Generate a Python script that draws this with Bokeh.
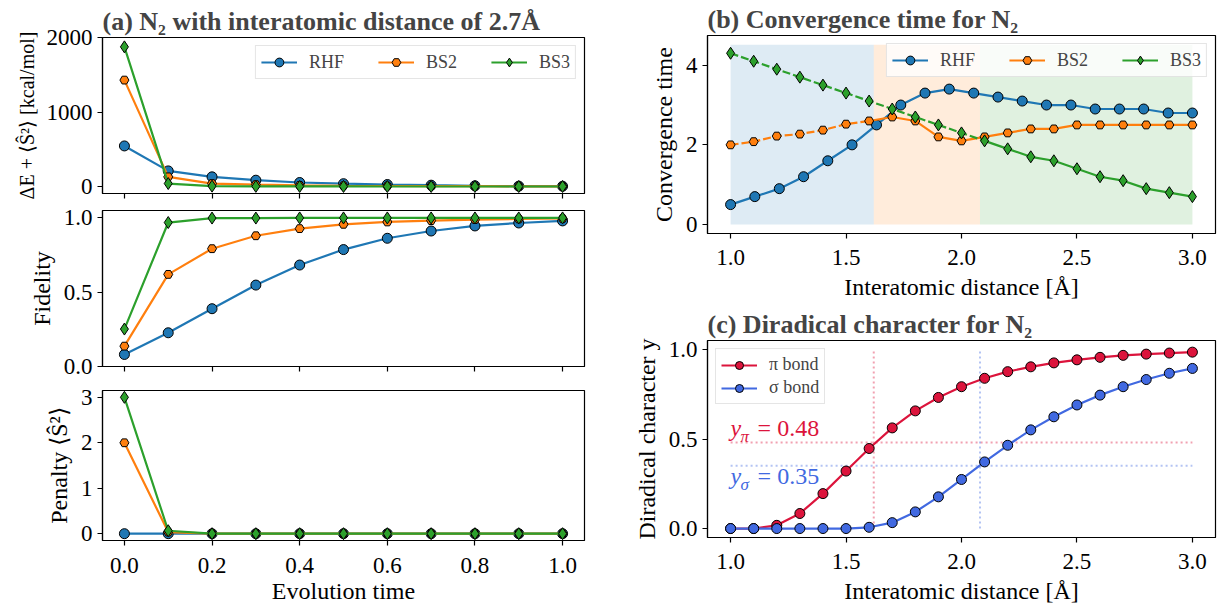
import numpy as np
from bokeh.plotting import figure
from bokeh.layouts import row, column
from bokeh.models import Range1d, FixedTicker, PrintfTickFormatter, Legend, LegendItem
from bokeh.core.properties import value
from bokeh.embed import file_html
from bokeh.resources import INLINE

# ---------------- data ----------------
evolution_time = [0.0, 0.1, 0.2, 0.3, 0.4, 0.5, 0.6, 0.7, 0.8, 0.9, 1.0]
energy_rhf = [546, 210, 130, 85, 54, 38, 27, 18, 10, 5, 4]
energy_bs2 = [1432, 130, 40, 25, 15, 10, 7, 5, 4, 3, 2]
energy_bs3 = [1879, 40, 5, 2, 1, 1, 0, 0, 0, 0, 0]

fidelity_rhf = [0.081, 0.227, 0.389, 0.548, 0.683, 0.787, 0.863, 0.912, 0.946, 0.966, 0.980]
fidelity_bs2 = [0.137, 0.620, 0.793, 0.880, 0.928, 0.957, 0.973, 0.982, 0.989, 0.993, 0.996]
fidelity_bs3 = [0.252, 0.969, 0.999, 0.999, 1.0, 1.0, 1.0, 1.0, 1.0, 1.0, 1.0]

penalty_rhf = [0.0, 0.0, 0.0, 0.0, 0.0, 0.0, 0.0, 0.0, 0.0, 0.0, 0.0]
penalty_bs2 = [2.0, 0.035, 0.0, 0.0, 0.0, 0.0, 0.0, 0.0, 0.0, 0.0, 0.0]
penalty_bs3 = [3.0, 0.065, 0.0, 0.0, 0.0, 0.0, 0.0, 0.0, 0.0, 0.0, 0.0]

distance_rhf = [1.0, 1.105, 1.211, 1.316, 1.421, 1.526, 1.632, 1.737, 1.842, 1.947,
                2.053, 2.158, 2.263, 2.368, 2.474, 2.579, 2.684, 2.789, 2.895, 3.0]
distance = [1.0, 1.1, 1.2, 1.3, 1.4, 1.5, 1.6, 1.7, 1.8, 1.9, 2.0,
            2.1, 2.2, 2.3, 2.4, 2.5, 2.6, 2.7, 2.8, 2.9, 3.0]
conv_rhf = [0.5, 0.7, 0.9, 1.2, 1.6, 2.0, 2.5, 3.0, 3.3, 3.4,
            3.3, 3.2, 3.1, 3.0, 3.0, 2.9, 2.9, 2.9, 2.8, 2.8]
conv_bs2 = [2.0, 2.08, 2.22, 2.27, 2.37, 2.52, 2.6, 2.7, 2.6, 2.2, 2.1,
            2.2, 2.3, 2.4, 2.4, 2.5, 2.5, 2.5, 2.5, 2.5, 2.5]
conv_bs3 = [4.3, 4.1, 3.9, 3.7, 3.5, 3.3, 3.1, 2.9, 2.7, 2.5, 2.3,
            2.1, 1.9, 1.7, 1.6, 1.4, 1.2, 1.1, 0.9, 0.8, 0.7]
bs2_solid_from = 1.6   # BS2 drawn dashed before this distance
bs3_solid_from = 2.1   # BS3 drawn dashed before this distance

diradical_pi = [0.0, 0.0, 0.018, 0.084, 0.195, 0.321, 0.447, 0.562, 0.657, 0.732, 0.792,
                0.839, 0.876, 0.903, 0.925, 0.942, 0.956, 0.967, 0.974, 0.980, 0.985]
diradical_sigma = [0.0, 0.0, 0.0, 0.0, 0.0, 0.0, 0.007, 0.033, 0.093, 0.177, 0.274,
                   0.372, 0.465, 0.551, 0.624, 0.690, 0.745, 0.792, 0.832, 0.867, 0.894]
y_pi_threshold = 0.48
y_sigma_threshold = 0.35
pi_crossing = 1.62
sigma_crossing = 2.08

region_left = [1.0, pi_crossing, sigma_crossing]
region_right = [pi_crossing, sigma_crossing, 3.0]

# ---------------- style ----------------
FONT = "Liberation Serif"
C_BLUE, C_ORANGE, C_GREEN = "#1f77b4", "#ff7f0e", "#2ca02c"
C_PI, C_SIGMA = "#dc143c", "#4169e1"
TICK_PX = "23px"
LABEL_PX = "24px"


def make_fig(width, height, xr, yr, mb):
    p = figure(width=width, height=height, x_range=Range1d(*xr), y_range=Range1d(*yr),
               output_backend="svg", toolbar_location=None,
               min_border_left=mb[0], min_border_right=mb[1],
               min_border_top=mb[2], min_border_bottom=mb[3])
    p.background_fill_color = "white"
    p.border_fill_color = "white"
    p.outline_line_color = "black"
    p.outline_line_width = 1.2
    p.xgrid.visible = False
    p.ygrid.visible = False
    for ax in (p.xaxis[0], p.yaxis[0]):
        ax.axis_line_color = "black"
        ax.axis_line_width = 1.2
        ax.major_tick_out = 5
        ax.major_tick_in = 0
        ax.major_tick_line_width = 1.2
        ax.minor_tick_line_color = None
        ax.major_label_text_font = FONT
        ax.major_label_text_font_size = TICK_PX
        ax.major_label_text_color = "black"
        ax.axis_label_text_font = FONT
        ax.axis_label_text_font_size = LABEL_PX
        ax.axis_label_text_font_style = "normal"
        ax.axis_label_text_color = "black"
        ax.major_label_standoff = 5
        ax.axis_label_standoff = 6
    return p


def set_title(p, text):
    p.title.text = text
    p.title.text_font = FONT
    p.title.text_font_style = "bold"
    p.title.text_font_size = "26px"
    p.title.align = "left"
    p.title.standoff = 4


def hide_xlabels(p):
    p.xaxis.major_label_text_color = None
    p.xaxis.major_label_text_font_size = "1px"
    p.xaxis.major_label_standoff = 0


def style_legend(leg, orientation, gh=22):
    leg.orientation = orientation
    leg.label_text_font = FONT
    leg.label_text_font_size = "18px"
    leg.glyph_width = 36
    leg.glyph_height = gh
    leg.label_height = 20
    leg.label_standoff = 12
    leg.padding = 5
    leg.margin = 8
    leg.border_line_color = "#cccccc"
    leg.border_line_width = 1
    leg.background_fill_color = "white"
    leg.background_fill_alpha = 0.8


def three_series(p, x, ys, sizes=(10, 9, 12)):
    renderers = []
    specs = [(C_BLUE, "circle"), (C_ORANGE, "hex"), (C_GREEN, "diamond")]
    for (col, mk), yv, sz in zip(specs, ys, sizes):
        ln = p.line(x, yv, line_color=col, line_width=2.2)
        sc = p.scatter(x, yv, marker=mk, size=sz, fill_color=col, line_color="black", line_width=1)
        renderers.append([ln, sc])
    return renderers


XT = [0.0, 0.2, 0.4, 0.6, 0.8, 1.0]
LW = 594

# ---- (a) top ----
a1 = make_fig(LW, 201, (-0.05, 1.05), (-94, 2005), (102, 10, 37, 8))
set_title(a1, "(a) N₂ with interatomic distance of 2.7Å")
r = three_series(a1, evolution_time, [energy_rhf, energy_bs2, energy_bs3])
a1.xaxis.ticker = FixedTicker(ticks=XT)
hide_xlabels(a1)
a1.yaxis.ticker = FixedTicker(ticks=[0, 1000, 2000])
a1.yaxis.formatter = PrintfTickFormatter(format="%d")
a1.yaxis.axis_label = "ΔE + ⟨Ŝ²⟩ [kcal/mol]"
a1.yaxis.axis_label_text_font_size = "20px"
leg = Legend(items=[LegendItem(label=n, renderers=rr) for n, rr in zip(["RHF", "BS2", "BS3"], r)],
             location="top_right")
style_legend(leg, "horizontal")
leg.spacing = 34
a1.add_layout(leg)

# ---- (a) middle ----
a2 = make_fig(LW, 179, (-0.05, 1.05), (0.0, 1.05), (102, 10, 9, 14))
three_series(a2, evolution_time, [fidelity_rhf, fidelity_bs2, fidelity_bs3])
a2.xaxis.ticker = FixedTicker(ticks=XT)
hide_xlabels(a2)
a2.yaxis.ticker = FixedTicker(ticks=[0.0, 0.5, 1.0])
a2.yaxis.formatter = PrintfTickFormatter(format="%.1f")
a2.yaxis.axis_label = "Fidelity"

# ---- (a) bottom ----
a3 = make_fig(LW, 226, (-0.05, 1.05), (-0.15, 3.15), (102, 10, 10, 60))
three_series(a3, evolution_time, [penalty_rhf, penalty_bs2, penalty_bs3])
a3.xaxis.ticker = FixedTicker(ticks=XT)
a3.xaxis.formatter = PrintfTickFormatter(format="%.1f")
a3.xaxis.axis_label = "Evolution time"
a3.xaxis.major_label_standoff = 12
a3.xaxis.axis_label_standoff = 2
a3.yaxis.ticker = FixedTicker(ticks=[0, 1, 2, 3])
a3.yaxis.formatter = PrintfTickFormatter(format="%d")
a3.yaxis.axis_label = "Penalty ⟨Ŝ²⟩"

# ---- (b) ----
RW = 631
b = make_fig(RW, 302, (0.9, 3.1), (-0.226, 4.746), (113, 10, 33, 66))
set_title(b, "(b) Convergence time for N₂")
b.quad(left=region_left, right=region_right, bottom=0, top=max(conv_bs3) * 1.05,
       fill_color=[C_BLUE, C_ORANGE, C_GREEN], fill_alpha=0.15, line_color=None)
ln_rhf = b.line(distance_rhf, conv_rhf, line_color=C_BLUE, line_width=2.2)
sc_rhf = b.scatter(distance_rhf, conv_rhf, marker="circle", size=10, fill_color=C_BLUE,
                   line_color="black", line_width=1)
i2 = distance.index(bs2_solid_from)
b.line(distance[:i2 + 1], conv_bs2[:i2 + 1], line_color=C_ORANGE, line_width=2.2, line_dash="8 3")
ln_bs2 = b.line(distance[i2:], conv_bs2[i2:], line_color=C_ORANGE, line_width=2.2)
sc_bs2 = b.scatter(distance, conv_bs2, marker="hex", size=9, fill_color=C_ORANGE,
                   line_color="black", line_width=1)
i3 = distance.index(bs3_solid_from)
b.line(distance[:i3 + 1], conv_bs3[:i3 + 1], line_color=C_GREEN, line_width=2.2, line_dash="8 3")
ln_bs3 = b.line(distance[i3:], conv_bs3[i3:], line_color=C_GREEN, line_width=2.2)
sc_bs3 = b.scatter(distance, conv_bs3, marker="diamond", size=12, fill_color=C_GREEN,
                   line_color="black", line_width=1)
b.xaxis.ticker = FixedTicker(ticks=[1.0, 1.5, 2.0, 2.5, 3.0])
b.xaxis.formatter = PrintfTickFormatter(format="%.1f")
b.xaxis.axis_label = "Interatomic distance [Å]"
b.xaxis.major_label_standoff = 11
b.xaxis.axis_label_standoff = 6
b.yaxis.ticker = FixedTicker(ticks=[0, 2, 4])
b.yaxis.formatter = PrintfTickFormatter(format="%d")
b.yaxis.axis_label = "Convergence time"
legb = Legend(items=[LegendItem(label="RHF", renderers=[ln_rhf, sc_rhf]),
                     LegendItem(label="BS2", renderers=[ln_bs2, sc_bs2]),
                     LegendItem(label="BS3", renderers=[ln_bs3, sc_bs3])],
              location="top_right")
style_legend(legb, "horizontal")
legb.spacing = 34
b.add_layout(legb)

# ---- (c) ----
c = make_fig(RW, 304, (0.9, 3.1), (-0.05, 1.05), (113, 10, 38, 66))
set_title(c, "(c) Diradical character for N₂")
c.line([1.0, 3.0], [y_pi_threshold, y_pi_threshold], line_color=C_PI, line_alpha=0.4,
       line_width=2, line_dash="2 3")
c.line([1.0, 3.0], [y_sigma_threshold, y_sigma_threshold], line_color=C_SIGMA, line_alpha=0.4,
       line_width=2, line_dash="2 3")
c.line([pi_crossing, pi_crossing], [0, 1], line_color=C_PI, line_alpha=0.4,
       line_width=2, line_dash="2 3")
c.line([sigma_crossing, sigma_crossing], [0, 1], line_color=C_SIGMA, line_alpha=0.4,
       line_width=2, line_dash="2 3")
ln_pi = c.line(distance, diradical_pi, line_color=C_PI, line_width=2.2)
sc_pi = c.scatter(distance, diradical_pi, marker="circle", size=10, fill_color=C_PI,
                  line_color="black", line_width=1)
ln_sg = c.line(distance, diradical_sigma, line_color=C_SIGMA, line_width=2.2)
sc_sg = c.scatter(distance, diradical_sigma, marker="circle", size=10, fill_color=C_SIGMA,
                  line_color="black", line_width=1)
for yv, sub, rest, col in [(0.49, "π", "= 0.48", C_PI), (0.22, "σ", "= 0.35", C_SIGMA)]:
    c.text(x=[1.0], y=[yv], text=["y"], text_font=value(FONT), text_font_style="italic",
           text_font_size="24px", text_color=col, text_baseline="bottom", text_align="left")
    c.text(x=[1.0], y=[yv], text=[sub], text_font=value(FONT), text_font_style="italic",
           text_font_size="17px", text_color=col, text_baseline="bottom", text_align="left",
           x_offset=10, y_offset=5)
    c.text(x=[1.0], y=[yv], text=[rest], text_font=value(FONT),
           text_font_size="24px", text_color=col, text_baseline="bottom", text_align="left",
           x_offset=27)
c.xaxis.ticker = FixedTicker(ticks=[1.0, 1.5, 2.0, 2.5, 3.0])
c.xaxis.formatter = PrintfTickFormatter(format="%.1f")
c.xaxis.axis_label = "Interatomic distance [Å]"
c.xaxis.major_label_standoff = 11
c.xaxis.axis_label_standoff = 6
c.yaxis.ticker = FixedTicker(ticks=[0.0, 0.5, 1.0])
c.yaxis.formatter = PrintfTickFormatter(format="%.1f")
c.yaxis.axis_label = "Diradical character y"
legc = Legend(items=[LegendItem(label="π bond", renderers=[ln_pi, sc_pi]),
                     LegendItem(label="σ bond", renderers=[ln_sg, sc_sg])],
              location="top_left")
style_legend(legc, "vertical", gh=20)
legc.spacing = 2
c.add_layout(legc)

layout = row(column(a1, a2, a3), column(b, c))
open("out.html", "w").write(file_html(layout, INLINE))
